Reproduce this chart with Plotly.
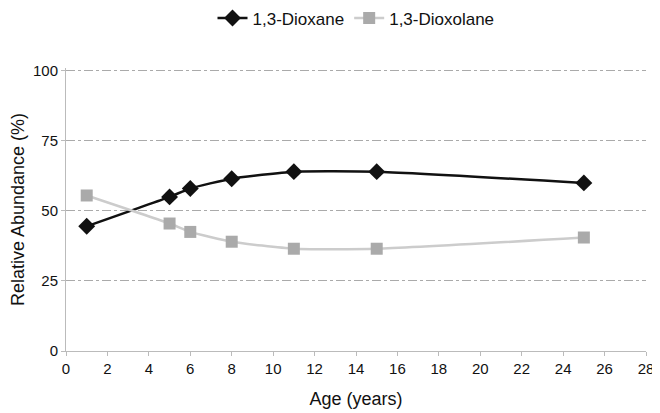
import plotly.graph_objects as go

age = [1, 5, 6, 8, 11, 15, 25]
dioxane = [44.5, 55, 58, 61.5, 64, 64, 60]
dioxolane = [55.5, 45.5, 42.5, 39, 36.5, 36.5, 40.5]
x_ticks = list(range(0, 30, 2))
y_ticks = [0, 25, 50, 75, 100]

fig = go.Figure()
fig.add_trace(go.Scatter(
    x=age, y=dioxane, name="1,3-Dioxane", mode="lines+markers",
    line=dict(color="#111111", width=2.5, shape="spline", smoothing=0.5),
    marker=dict(symbol="diamond", size=13, color="#111111"),
))
fig.add_trace(go.Scatter(
    x=age, y=dioxolane, name="1,3-Dioxolane", mode="lines+markers",
    line=dict(color="#cccccc", width=2.5, shape="spline", smoothing=0.5),
    marker=dict(symbol="square", size=12, color="#aaaaaa"),
))

# the page body has an 8px margin, so the figure is sized to fit the window
fig.update_layout(
    width=652, height=405,
    margin=dict(l=58, r=14, t=60, b=62, autoexpand=False),
    paper_bgcolor="white", plot_bgcolor="white",
    font=dict(family="Liberation Sans, Arial, sans-serif", size=15, color="#111111"),
    legend=dict(orientation="h", x=0.5, xanchor="center", y=1.175, yref="paper",
                yanchor="middle", font=dict(size=17)),
    showlegend=True,
)
fig.update_xaxes(
    range=[0, 28], tickvals=x_ticks, ticks="outside", ticklen=4, tickcolor="#bbbbbb",
    showline=True, linecolor="#bbbbbb", linewidth=1, showgrid=False, zeroline=False,
    automargin=False,
    title=dict(text="Age (years)", font=dict(size=18), standoff=16),
)
fig.update_yaxes(
    range=[0, 101], tickvals=y_ticks, ticks="outside", ticklen=4, tickcolor="#bbbbbb",
    showline=True, linecolor="#bbbbbb", linewidth=1, automargin=False,
    showgrid=True, gridcolor="#aaaaaa", griddash="dashdot", gridwidth=1, zeroline=False,
    title=dict(text="Relative Abundance (%)", font=dict(size=18), standoff=10),
)
fig.write_html("out.html")
